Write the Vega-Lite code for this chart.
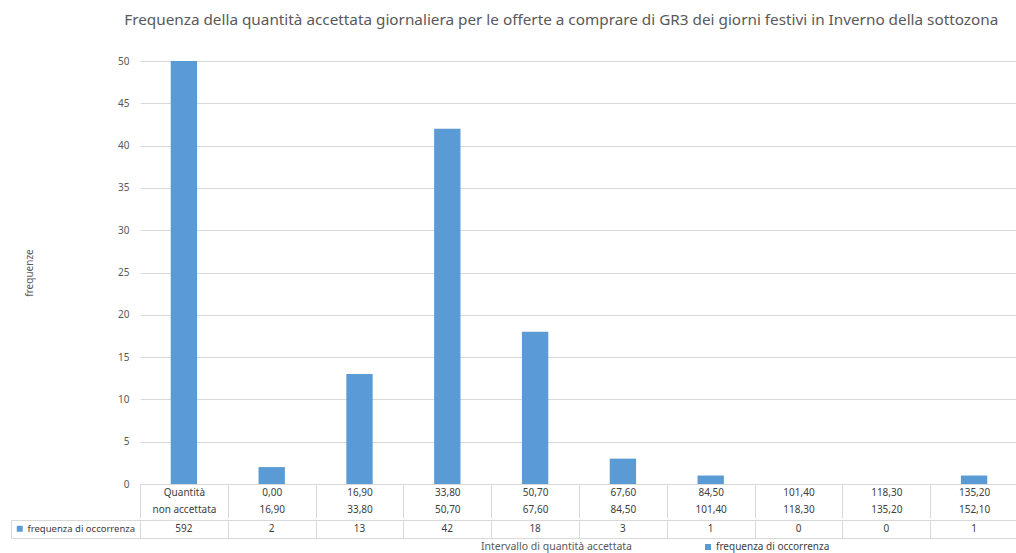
{
  "$schema": "https://vega.github.io/schema/vega-lite/v6.json",
  "padding": {"left": 10, "top": 12, "right": 0, "bottom": 0},
  "background": "white",
  "title": {
    "text": "Frequenza della quantità accettata giornaliera per le offerte a comprare di GR3 dei giorni festivi in Inverno della sottozona",
    "font": "Noto Sans", "fontSize": 15.3, "fontWeight": "normal", "color": "#595959",
    "anchor": "middle", "dx": 47, "offset": 28
  },
  "config": {
    "font": "Noto Sans",
    "axis": {"labelFont": "Noto Sans", "titleFont": "Noto Sans", "labelColor": "#595959", "titleColor": "#595959", "titleFontWeight": "normal"},
    "legend": {"labelFont": "Noto Sans"}
  },
  "data": {"values": [
    {"cat": "Quantità|non accettata", "freq": 592, "serie": "frequenza di occorrenza"},
    {"cat": "0,00|16,90", "freq": 2, "serie": "frequenza di occorrenza"},
    {"cat": "16,90|33,80", "freq": 13, "serie": "frequenza di occorrenza"},
    {"cat": "33,80|50,70", "freq": 42, "serie": "frequenza di occorrenza"},
    {"cat": "50,70|67,60", "freq": 18, "serie": "frequenza di occorrenza"},
    {"cat": "67,60|84,50", "freq": 3, "serie": "frequenza di occorrenza"},
    {"cat": "84,50|101,40", "freq": 1, "serie": "frequenza di occorrenza"},
    {"cat": "101,40|118,30", "freq": 0, "serie": "frequenza di occorrenza"},
    {"cat": "118,30|135,20", "freq": 0, "serie": "frequenza di occorrenza"},
    {"cat": "135,20|152,10", "freq": 1, "serie": "frequenza di occorrenza"}
  ]},
  "spacing": 0,
  "resolve": {"legend": {"color": "independent", "fill": "independent"}, "scale": {"color": "independent", "fill": "independent"}},
  "vconcat": [
    {
      "width": 878, "height": 423,
      "view": {"stroke": null},
      "mark": {"type": "bar", "color": "#5B9BD5", "clip": true, "width": {"band": 0.3}},
      "encoding": {
        "x": {"field": "cat", "type": "nominal", "sort": null,
          "scale": {"paddingInner": 0, "paddingOuter": 0},
          "axis": {"title": null, "labelExpr": "isValid(datum.value) ? split(datum.value, '|') : ''", "labelAngle": 0, "labelFontSize": 10, "labelColor": "#404040",
            "labelLineHeight": 17, "labelPadding": -31, "labelBaseline": "top",
            "tickBand": "extent", "tickSize": 34, "tickColor": "#d9d9d9", "domainColor": "#d9d9d9",
            "minExtent": 34, "maxExtent": 34}},
        "y": {"field": "freq", "type": "quantitative",
          "scale": {"domain": [0, 50], "nice": false},
          "axis": {"values": [0, 5, 10, 15, 20, 25, 30, 35, 40, 45, 50], "title": "frequenze", "titleFontSize": 10,
            "titlePadding": 83, "labelFontSize": 10, "labelPadding": 11, "ticks": false, "domain": false,
            "gridColor": "#d9d9d9"}}
      }
    },
    {
      "width": 878, "height": 18,
      "view": {"stroke": "#d9d9d9"},
      "layer": [
        {
          "mark": {"type": "text", "fontSize": 10, "color": "#404040", "font": "Noto Sans"},
          "encoding": {
            "x": {"field": "cat", "type": "nominal", "sort": null,
              "scale": {"paddingInner": 0, "paddingOuter": 0},
              "axis": {"grid": true, "gridColor": "#d9d9d9", "tickBand": "extent", "labels": false, "ticks": false, "domain": false,
                "title": "Intervallo di quantità accettata", "titleFontSize": 10.5, "titlePadding": 3, "titleX": 416, "titleColor": "#595959"}},
            "text": {"field": "freq", "type": "quantitative"}
          }
        },
        {
          "mark": {"type": "square", "opacity": 0},
          "encoding": {
            "x": {"field": "cat", "type": "nominal", "sort": null},
            "color": {"field": "serie", "type": "nominal", "scale": {"range": ["#5B9BD5"]},
              "legend": {"orient": "left", "title": null, "offset": 0, "strokeColor": "#d9d9d9", "padding": 4,
                "symbolSize": 36, "symbolType": "square", "symbolOpacity": 1, "symbolStrokeWidth": 0,
                "labelFontSize": 9.5, "labelColor": "#404040", "labelOffset": 3}}
          }
        },
        {
          "mark": {"type": "square", "opacity": 0},
          "encoding": {
            "x": {"field": "cat", "type": "nominal", "sort": null},
            "fill": {"field": "serie", "type": "nominal", "scale": {"range": ["#5B9BD5"]},
              "legend": {"orient": "none", "legendX": 563, "legendY": 22, "title": null,
                "symbolSize": 36, "symbolType": "square", "symbolOpacity": 1, "symbolStrokeWidth": 0,
                "labelFontSize": 10, "labelColor": "#404040", "labelOffset": 3}}
          }
        }
      ]
    }
  ]
}
